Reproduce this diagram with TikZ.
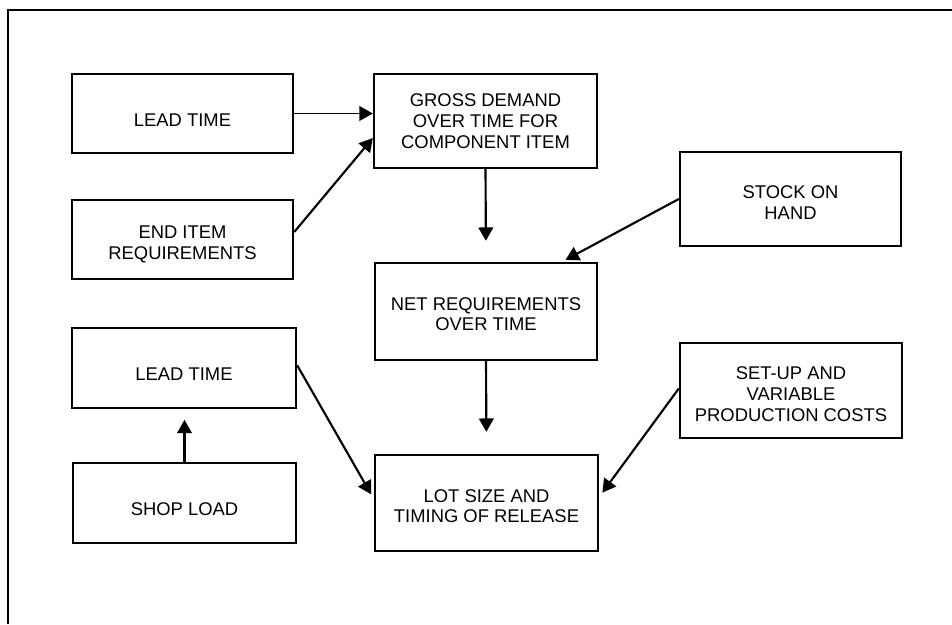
\documentclass[tikz,border=0pt]{standalone}
\usepackage{fontspec}
\setmainfont{Liberation Sans}
\usetikzlibrary{arrows.meta,calc}
\newcommand{\tstrut}[1]{\rule{0pt}{#1}}
\tikzset{
  box/.style={draw=black, line width=1.8pt, rectangle, align=center, inner sep=0pt,
    font=\fontsize{13.8}{15.5}\selectfont},
  arr/.style={draw=black, line width=1.6pt, -{Triangle[length=10pt,width=11pt]}},
  thinarr/.style={arr, line width=1.1pt},
  frame/.style={draw=black, line width=1.5pt}
}
\begin{document}
\begin{tikzpicture}[x=0.75pt,y=-0.75pt]
\useasboundingbox (0,0) rectangle (952,624);
% frame
\coordinate (fbl) at (8,624);
\coordinate (ftl) at (8,10);
\coordinate (ftr) at (952,10);
\draw[frame] (fbl) -- (ftl) -- (ftr);
% boxes
\node[box, minimum width={221*0.75pt}, minimum height={79*0.75pt}] (lt1) at (182.5,113.5) {\tstrut{18.9pt}LEAD TIME};
\node[box, minimum width={221*0.75pt}, minimum height={79*0.75pt}] (end) at (182.5,239.5) {\tstrut{16.7pt}END ITEM\\REQUIREMENTS};
\node[box, minimum width={223*0.75pt}, minimum height={94*0.75pt}] (gross) at (485.5,121) {GROSS DEMAND\\OVER TIME FOR\\COMPONENT ITEM};
\node[box, minimum width={222*0.75pt}, minimum height={97*0.75pt}] (net) at (486,311.5) {\tstrut{13.7pt}NET REQUIREMENTS\\OVER TIME};
\node[box, minimum width={221*0.75pt}, minimum height={94*0.75pt}] (stock) at (790.5,199) {\tstrut{15.1pt}STOCK ON\\HAND};
\node[box, minimum width={222*0.75pt}, minimum height={95*0.75pt}] (setup) at (791,390.5) {\tstrut{15.1pt}SET-UP AND\\VARIABLE\\PRODUCTION COSTS};
\node[box, minimum width={224*0.75pt}, minimum height={80*0.75pt}] (lt2) at (184,368) {\tstrut{18.9pt}LEAD TIME};
\node[box, minimum width={223*0.75pt}, minimum height={80*0.75pt}] (shop) at (184.5,503) {\tstrut{18.9pt}SHOP LOAD};
\node[box, minimum width={223*0.75pt}, minimum height={96*0.75pt}] (lot) at (486.5,503) {\tstrut{14.4pt}LOT SIZE AND\\TIMING OF RELEASE};
% connectors
\draw[thinarr] (lt1.east) -- (lt1.east -| gross.west);
\draw[arr] ([yshift=5.6pt]end.east) -- ([yshift=-12.75pt]gross.west);
\draw[arr, shorten >=15.75pt] (gross.south) -- (net.north);
\draw[arr, shorten >=3pt] (stock.west) -- ([xshift=57pt]net.north);
\draw[arr, shorten >=16.5pt] (net.south) -- (lot.north);
\draw[arr, shorten >=4pt] ([yshift=2pt]lt2.east) -- ([yshift=3pt]lot.west);
\draw[arr, shorten >=8pt] (shop.north) -- (shop.north |- lt2.south);
\draw[arr, shorten >=4pt] ([yshift=1.5pt]setup.west) -- ([yshift=4.5pt]lot.east);
\end{tikzpicture}
\end{document}
